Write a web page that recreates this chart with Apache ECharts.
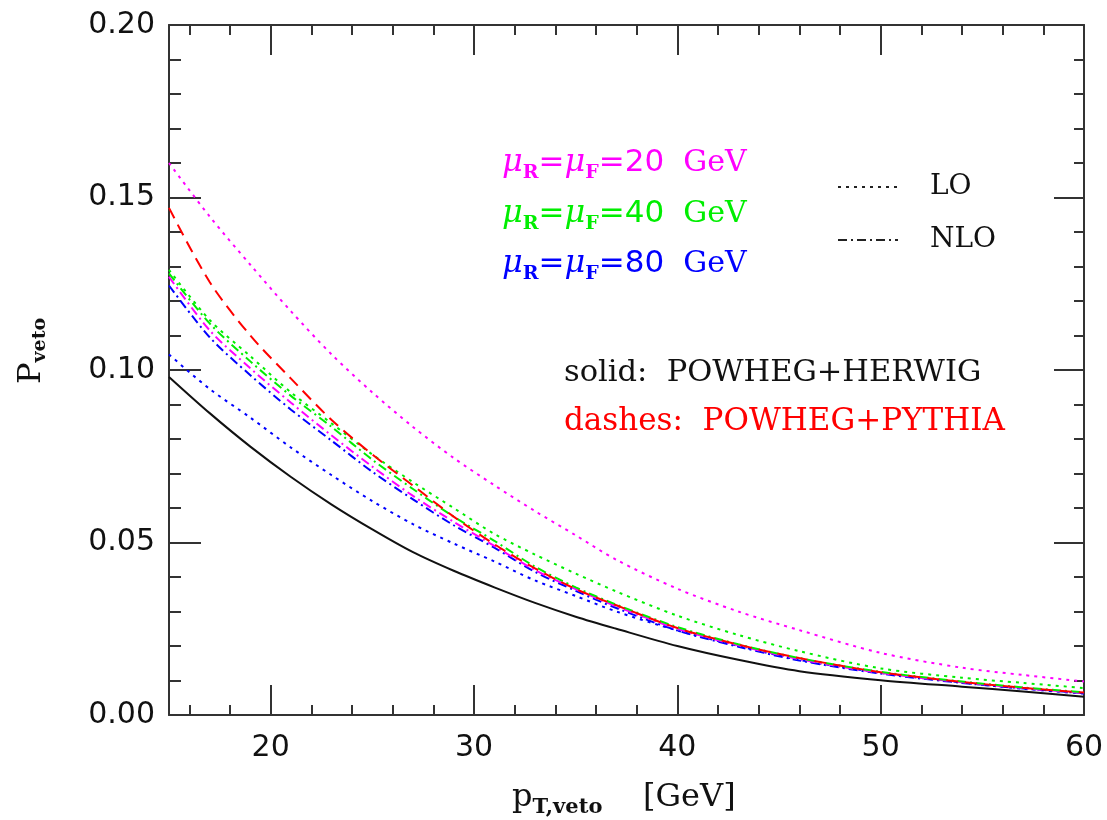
<!DOCTYPE html>
<html>
<head>
<meta charset="utf-8">
<script src="https://cdn.jsdelivr.net/npm/echarts@6/dist/echarts.min.js"></script>
<style>
html,body{margin:0;padding:0;background:#fff;}
#chart{width:1107px;height:820px;}
</style>
</head>
<body>
<div id="chart"></div>
<script>
// ---- data ----
const pT = [15, 17, 19, 21, 23, 25, 27, 29, 31, 33, 35, 37, 40, 43, 46, 50, 54, 57, 60];

const herwig  = [0.098, 0.0875, 0.0778, 0.069, 0.061, 0.0538, 0.0472, 0.0418, 0.037, 0.0325, 0.0285, 0.025, 0.020, 0.016, 0.0127, 0.0101, 0.0082, 0.0068, 0.0053];
const pythia  = [0.147, 0.1255, 0.110, 0.0975, 0.0855, 0.0755, 0.0665, 0.0575, 0.0495, 0.0425, 0.0365, 0.0318, 0.0252, 0.0204, 0.0165, 0.0124, 0.0096, 0.0079, 0.0065];

const loMu20  = [0.160, 0.1445, 0.1305, 0.117, 0.1045, 0.0935, 0.0835, 0.0745, 0.0666, 0.0591, 0.0521, 0.045, 0.0366, 0.030, 0.0246, 0.018, 0.0137, 0.0116, 0.0097];
const loMu40  = [0.129, 0.1145, 0.104, 0.0935, 0.0845, 0.0755, 0.0675, 0.060, 0.0525, 0.0465, 0.041, 0.0358, 0.0288, 0.0232, 0.0185, 0.0135, 0.0108, 0.0093, 0.0078];
const loMu80  = [0.1045, 0.0945, 0.0862, 0.0775, 0.0695, 0.062, 0.0553, 0.0497, 0.0445, 0.039, 0.0345, 0.030, 0.0245, 0.020, 0.016, 0.0122, 0.0094, 0.0076, 0.0062];

const nloMu20 = [0.127, 0.1115, 0.1005, 0.0905, 0.081, 0.072, 0.0635, 0.056, 0.049, 0.042, 0.0365, 0.0315, 0.025, 0.0202, 0.0162, 0.0122, 0.0095, 0.0078, 0.0064];
const nloMu40 = [0.128, 0.1135, 0.1025, 0.0925, 0.0835, 0.074, 0.0655, 0.0575, 0.0505, 0.043, 0.037, 0.032, 0.0255, 0.0205, 0.0165, 0.0125, 0.0097, 0.008, 0.0066];
const nloMu80 = [0.1245, 0.1095, 0.0985, 0.0885, 0.0795, 0.0705, 0.0625, 0.055, 0.0485, 0.0415, 0.036, 0.031, 0.0245, 0.0198, 0.0158, 0.012, 0.0093, 0.0077, 0.0063];

const xTickLabels = [20, 30, 40, 50, 60];
const yTickLabels = ['0.00', '0.05', '0.10', '0.15', '0.20'];

// ---- chart ----
const MAG = '#ff00ff', GRN = '#00ee00', BLU = '#0000ff', RED = '#ff0000', BLK = '#111111';
const AX = '#333333';
const SANS = '"DejaVu Sans", sans-serif';
const SERIF = '"DejaVu Serif", serif';

function pairs(ys) { return pT.map((x, i) => [x, ys[i]]); }

const DOT = [3, 5];
const DASH = [12, 7];
const DASHDOT = [9, 4, 2, 4];

function line(name, ys, color, type, width) {
  return {
    name, type: 'line', data: pairs(ys), showSymbol: false, symbol: 'none',
    smooth: 0.3, silent: true,
    lineStyle: { color, width: width || 2, type, cap: 'butt' }
  };
}

const chart = echarts.init(document.getElementById('chart'), null, { renderer: 'canvas' });

const xCommon = { type: 'value', min: 15, max: 60, gridIndex: 0, splitLine: { show: false } };
const yCommon = { type: 'value', min: 0, max: 0.2, interval: 0.05, gridIndex: 0, splitLine: { show: false } };

const option = {
  animation: false,
  backgroundColor: '#ffffff',
  grid: { left: 169, right: 23, top: 25, bottom: 105, containLabel: false, show: false },
  xAxis: [
    Object.assign({}, xCommon, {
      position: 'bottom', splitNumber: 5,
      axisLine: { show: true, lineStyle: { color: AX, width: 2 } },
      axisTick: { show: true, inside: true, length: 30, lineStyle: { color: AX, width: 2 } },
      axisLabel: {
        show: true, margin: 18, color: '#111', fontSize: 30, fontFamily: SANS,
        formatter: v => (xTickLabels.indexOf(Math.round(v)) >= 0 && Math.abs(v - Math.round(v)) < 1e-9) ? String(Math.round(v)) : ''
      }
    }),
    Object.assign({}, xCommon, {
      position: 'bottom', splitNumber: 20,
      axisLine: { show: false },
      axisTick: { show: true, inside: true, length: 10, lineStyle: { color: AX, width: 2 } },
      axisLabel: { show: false }
    }),
    Object.assign({}, xCommon, {
      position: 'top', splitNumber: 5,
      axisLine: { show: true, lineStyle: { color: AX, width: 2 } },
      axisTick: { show: true, inside: true, length: 30, lineStyle: { color: AX, width: 2 } },
      axisLabel: { show: false }
    }),
    Object.assign({}, xCommon, {
      position: 'top', splitNumber: 20,
      axisLine: { show: false },
      axisTick: { show: true, inside: true, length: 10, lineStyle: { color: AX, width: 2 } },
      axisLabel: { show: false }
    })
  ],
  yAxis: [
    Object.assign({}, yCommon, {
      position: 'left',
      axisLine: { show: true, lineStyle: { color: AX, width: 2 } },
      axisTick: { show: true, inside: true, length: 32, lineStyle: { color: AX, width: 2 } },
      minorTick: { show: true, splitNumber: 5, length: 12, lineStyle: { color: AX, width: 2 } },
      axisLabel: {
        show: true, margin: 14, color: '#111', fontSize: 30, fontFamily: SANS,
        formatter: v => yTickLabels[Math.round(v / 0.05)]
      }
    }),
    Object.assign({}, yCommon, {
      position: 'right',
      axisLine: { show: true, lineStyle: { color: AX, width: 2 } },
      axisTick: { show: true, inside: true, length: 30, lineStyle: { color: AX, width: 2 } },
      minorTick: { show: true, splitNumber: 5, length: 10, lineStyle: { color: AX, width: 2 } },
      axisLabel: { show: false }
    })
  ],
  series: [
    line('LO 20', loMu20, MAG, DOT),
    line('LO 80', loMu80, BLU, DOT),
    line('NLO 80', nloMu80, BLU, DASHDOT),
    line('NLO 20', nloMu20, MAG, DASHDOT),
    line('NLO 40', nloMu40, GRN, DASHDOT),
    line('LO 40', loMu40, GRN, DOT),
    line('POWHEG+PYTHIA', pythia, RED, DASH),
    line('POWHEG+HERWIG', herwig, BLK, 'solid', 2)
  ],
  graphic: [
    // scale labels
    ...[[MAG, '20', 167], [GRN, '40', 218], [BLU, '80', 268]].map(([c, v, y]) => ({
      type: 'text', left: 502, top: y - 20, silent: true,
      style: {
        text: '{mu|μ}{sub|R}{eq|=}{mu|μ}{sub|F}{eq|=' + v + '}{gev|  GeV}',
        fill: c,
        rich: {
          mu: { fontFamily: SERIF, fontStyle: 'italic', fontSize: 32, fill: c, lineHeight: 40 },
          sub: { fontFamily: SERIF, fontWeight: 'bold', fontSize: 19, fill: c, lineHeight: 16, verticalAlign: 'bottom' },
          eq: { fontFamily: SANS, fontSize: 31, fill: c, lineHeight: 40 },
          gev: { fontFamily: SERIF, fontSize: 30, fill: c, lineHeight: 40 }
        }
      }
    })),
    // LO / NLO line-style key
    { type: 'line', silent: true, shape: { x1: 838, y1: 187, x2: 898, y2: 187 }, style: { stroke: '#222', lineWidth: 2, lineDash: DOT } },
    { type: 'line', silent: true, shape: { x1: 838, y1: 240, x2: 898, y2: 240 }, style: { stroke: '#222', lineWidth: 2, lineDash: DASHDOT } },
    { type: 'text', left: 930, top: 173, silent: true, style: { text: 'LO', fill: '#111', font: '28px ' + SERIF } },
    { type: 'text', left: 930, top: 226, silent: true, style: { text: 'NLO', fill: '#111', font: '28px ' + SERIF } },
    // generator key
    { type: 'text', left: 564, top: 358, silent: true, style: { text: 'solid:  POWHEG+HERWIG', fill: '#111', font: '30.5px ' + SERIF } },
    { type: 'text', left: 564, top: 406, silent: true, style: { text: 'dashes:  POWHEG+PYTHIA', fill: RED, font: '31px ' + SERIF } },
    // axis names
    {
      type: 'text', left: 512, top: 782, silent: true,
      style: {
        text: '{p|p}{sub|T,veto}{g|    [GeV]}',
        rich: {
          p: { fontFamily: SERIF, fontSize: 32, fill: '#111', lineHeight: 40 },
          sub: { fontFamily: SERIF, fontWeight: 'bold', fontSize: 21, fill: '#111', lineHeight: 18, verticalAlign: 'bottom' },
          g: { fontFamily: SERIF, fontSize: 32, fill: '#111', lineHeight: 40 }
        }
      }
    },
    {
      type: 'text', x: 14, y: 384, rotation: Math.PI / 2, silent: true,
      style: {
        text: '{p|P}{sub|veto}',
        rich: {
          p: { fontFamily: SERIF, fontSize: 32, fill: '#111', lineHeight: 36 },
          sub: { fontFamily: SERIF, fontWeight: 'bold', fontSize: 19, fill: '#111', lineHeight: 14, verticalAlign: 'bottom' }
        }
      }
    }
  ]
};
chart.setOption(option);
</script>
</body>
</html>
